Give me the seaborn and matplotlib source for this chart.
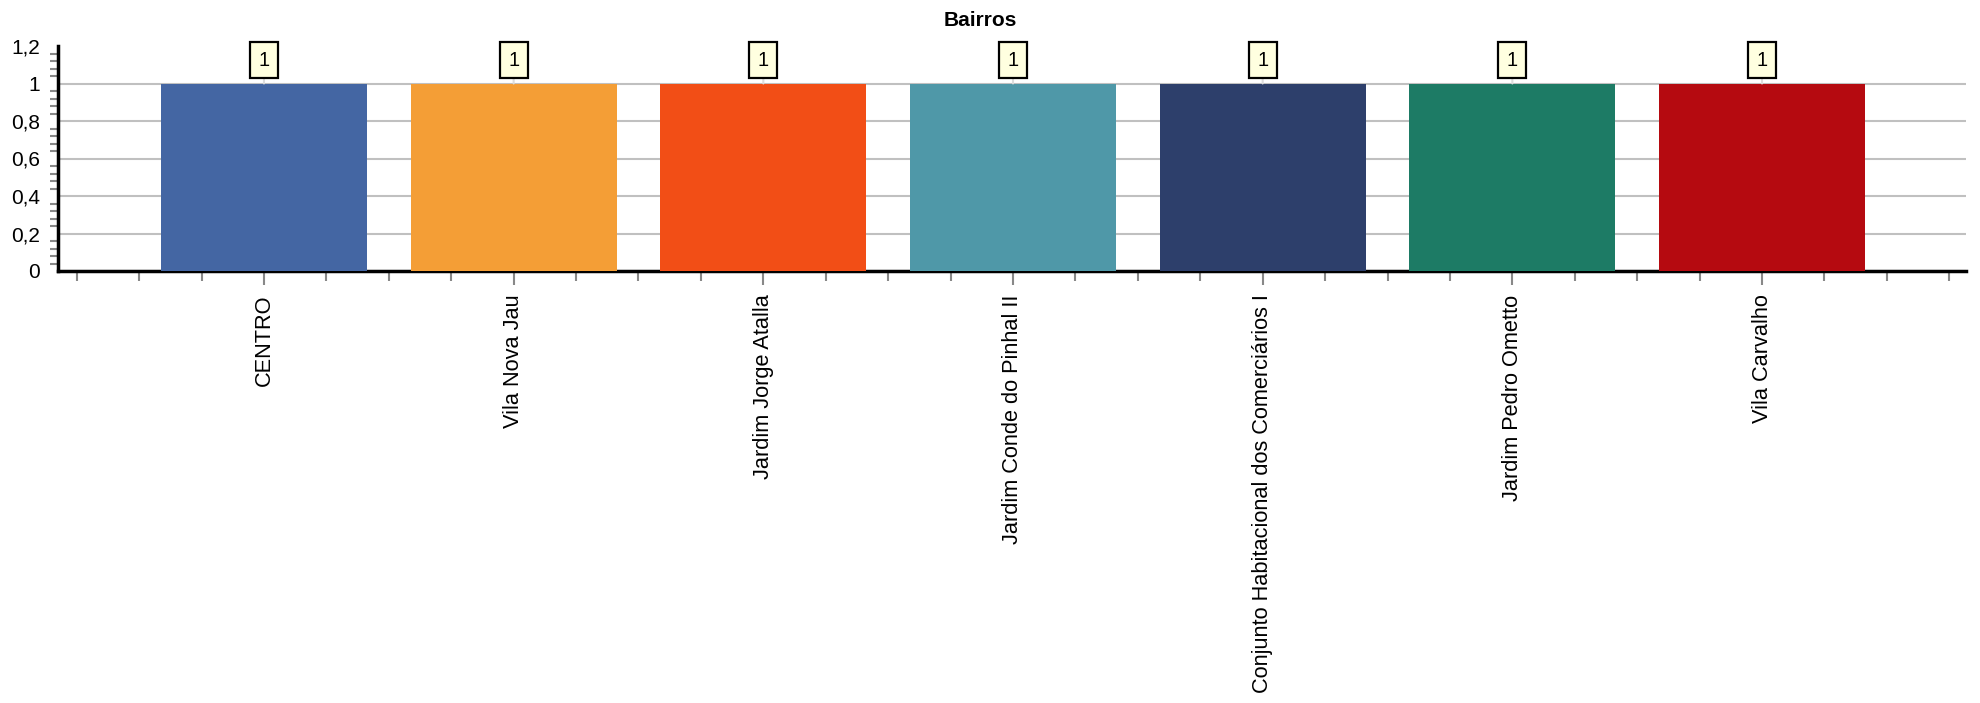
import matplotlib
matplotlib.use("Agg")
import matplotlib.pyplot as plt
import seaborn as sns
import pandas as pd
import numpy as np
from matplotlib.ticker import MultipleLocator, FixedLocator

categories = ["CENTRO", "Vila Nova Jau", "Jardim Jorge Atalla", "Jardim Conde do Pinhal II",
              "Conjunto Habitacional dos Comerciários I", "Jardim Pedro Ometto", "Vila Carvalho"]
values = [1, 1, 1, 1, 1, 1, 1]
colors = ["#4466A3", "#F49E36", "#F24E16", "#4F98A8", "#2D3F6B", "#1D7B65", "#B50A10"]
title = "Bairros"

sns.set_style("white")
plt.rcParams['font.family'] = ['Liberation Sans', 'DejaVu Sans']
plt.rcParams['text.color'] = 'black'
plt.rcParams['xtick.labelcolor'] = 'black'
plt.rcParams['ytick.labelcolor'] = 'black'

df = pd.DataFrame({"cat": categories, "val": values})

fig = plt.figure(figsize=(19.81, 7.03), dpi=100)
ax = fig.add_axes([58/1981, 1 - 271/703, (1966-58)/1981, (271-46)/703])

sns.barplot(data=df, x="cat", y="val", hue="cat", palette=colors, legend=False,
            width=0.825, saturation=1, linewidth=0, edgecolor="none", ax=ax, zorder=3)

ax.set_xlim(-0.825, 6.817)
ax.set_ylim(0, 1.2)
ax.set_xlabel("")
ax.set_ylabel("")

# y ticks
yt = np.arange(0, 1.21, 0.2)
ax.set_yticks(yt)
ax.set_yticklabels([("%g" % round(v, 1)).replace(".", ",") for v in yt], fontsize=15, color="black")
ax.yaxis.set_minor_locator(MultipleLocator(0.04))
ax.tick_params(axis="y", which="major", length=11, width=1.5, color="#888888", pad=2)
ax.tick_params(axis="y", which="minor", length=6, width=1.5, color="#888888", left=True)

# x ticks
ax.set_xticks(range(len(categories)))
ax.set_xticklabels(categories, rotation=90, fontsize=15.7, va="top", color="black")
minor_x = [v for v in np.arange(-0.75, 6.8, 0.25) if abs(v - round(v)) > 1e-6]
ax.xaxis.set_minor_locator(FixedLocator(minor_x))
ax.tick_params(axis="x", which="major", length=10, width=1.5, color="#888888", pad=7, bottom=True)
ax.tick_params(axis="x", which="minor", length=7, width=1.5, color="#888888", bottom=True)

# grid
ax.yaxis.grid(True, which="major", color="#C0C0C0", linewidth=1.5, zorder=0)
ax.xaxis.grid(False)
ax.set_axisbelow(True)
ax.get_ygridlines()[-1].set_visible(False)

for s in ["top", "right"]:
    ax.spines[s].set_visible(False)
for s in ["left", "bottom"]:
    ax.spines[s].set_color("black")
    ax.spines[s].set_linewidth(2.5)

# value labels
for i, v in enumerate(values):
    ax.annotate(str(v), xy=(i, v), xytext=(i, v + 0.123), ha="center", va="center",
                fontsize=14.5, color="black", zorder=5,
                bbox=dict(boxstyle="square,pad=0.42", fc="#FFFFE0", ec="black", lw=1.6),
                arrowprops=dict(arrowstyle="-", color="#DDDDDD", lw=1.5, shrinkA=0, shrinkB=0))

fig.text(980/1981, 1 - 20/703, title, ha="center", va="center", fontsize=15, fontweight="bold",
         color="black")

fig.savefig("out.png", dpi=100)
